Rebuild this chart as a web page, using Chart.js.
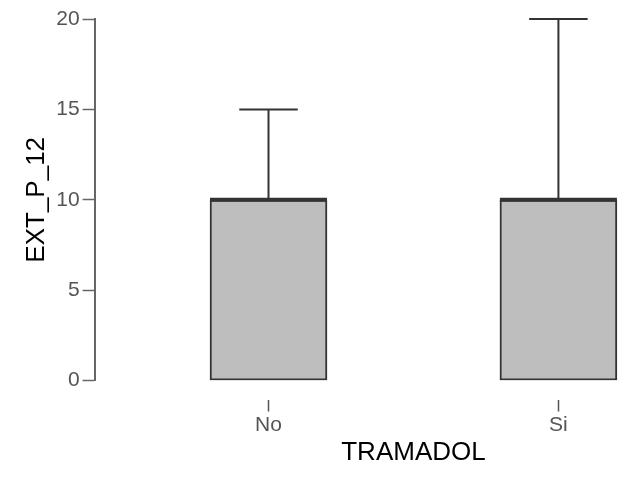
<!DOCTYPE html>
<html>
<head>
<meta charset="utf-8">
<script src="https://cdn.jsdelivr.net/npm/chart.js@4"></script>
<style>
body { margin:0; background:#fff; }
#wrap { width:628px; height:477px; }
</style>
</head>
<body>
<div id="wrap"><canvas id="boxChart"></canvas></div>
<script>
// box plot values per group
const categories = ['No', 'Si'];
const lowWhisker = [0, 0];
const q1 = [0, 0];
const medians = [10, 10];
const q3 = [10, 10];
const highWhisker = [15, 20];
const yTicks = [0, 5, 10, 15, 20];
const xTitle = 'TRAMADOL';

const boxData = categories.map((c, i) => ({ x: i, y: [q1[i], q3[i]] }));

// whiskers + median drawn from the scales
const boxExtras = {
    id: 'boxExtras',
    afterDatasetsDraw(chart) {
        const ctx = chart.ctx;
        const xs = chart.scales.x;
        const ys = chart.scales.y;
        const meta = chart.getDatasetMeta(0);
        ctx.save();
        ctx.strokeStyle = '#333';
        categories.forEach((c, i) => {
            const x = xs.getPixelForValue(i);
            const w = meta.data[i].width;
            // upper whisker
            ctx.lineWidth = 2;
            ctx.beginPath();
            ctx.moveTo(x, ys.getPixelForValue(q3[i]));
            ctx.lineTo(x, ys.getPixelForValue(highWhisker[i]));
            ctx.moveTo(x - w / 4, ys.getPixelForValue(highWhisker[i]));
            ctx.lineTo(x + w / 4, ys.getPixelForValue(highWhisker[i]));
            // lower whisker
            ctx.moveTo(x, ys.getPixelForValue(q1[i]));
            ctx.lineTo(x, ys.getPixelForValue(lowWhisker[i]));
            ctx.stroke();
            // median
            ctx.lineWidth = 4;
            ctx.beginPath();
            ctx.moveTo(x - w / 2, ys.getPixelForValue(medians[i]));
            ctx.lineTo(x + w / 2, ys.getPixelForValue(medians[i]));
            ctx.stroke();
        });
        ctx.restore();
    },
    // x title sits centred between the groups, not the whole axis
    afterDraw(chart) {
        const ctx = chart.ctx;
        const xs = chart.scales.x;
        const cx = (xs.getPixelForValue(0) + xs.getPixelForValue(categories.length - 1)) / 2;
        ctx.save();
        ctx.fillStyle = '#000';
        ctx.font = '26px "Liberation Sans"';
        ctx.textAlign = 'center';
        ctx.textBaseline = 'middle';
        ctx.fillText(xTitle, cx, xs.bottom - 19);
        ctx.restore();
    }
};

new Chart(
    document.getElementById('boxChart'),
    {
        type: 'bar',
        data: {
            datasets: [{
                data: boxData,
                backgroundColor: '#bebebe',
                borderColor: '#333',
                borderWidth: 2,
                borderSkipped: false,
                barThickness: 117
            }]
        },
        options: {
            responsive: true,
            maintainAspectRatio: false,
            animation: false,
            layout: {
                padding: { left: 21, top: 19, right: 0, bottom: 5 }
            },
            plugins: {
                legend: { display: false },
                tooltip: { enabled: false }
            },
            scales: {
                x: {
                    type: 'linear',
                    min: -0.6,
                    max: 1.24,
                    offset: false,
                    afterBuildTicks: s => { s.ticks = categories.map((c, i) => ({ value: i })); },
                    border: { display: false },
                    grid: {
                        offset: false,
                        drawOnChartArea: false,
                        tickLength: 31,
                        tickColor: '#555',
                        tickWidth: 1.5,
                        tickBorderDash: [0, 19, 12, 100]
                    },
                    ticks: {
                        callback: v => categories[v],
                        color: '#555',
                        padding: 1,
                        maxRotation: 0,
                        font: { family: 'Liberation Sans', size: 21 }
                    },
                    title: {
                        // keeps the space; text drawn by boxExtras
                        display: true,
                        text: xTitle,
                        color: 'rgba(0,0,0,0)',
                        padding: { top: 2, bottom: 0 },
                        font: { family: 'Liberation Sans', size: 26 }
                    }
                },
                y: {
                    min: 0,
                    max: 20,
                    afterBuildTicks: s => { s.ticks = yTicks.map(v => ({ value: v })); },
                    border: { color: '#666', width: 2 },
                    grid: {
                        drawOnChartArea: false,
                        tickLength: 12,
                        tickColor: '#666',
                        tickWidth: 1.5
                    },
                    ticks: {
                        color: '#555',
                        padding: 3,
                        font: { family: 'Liberation Sans', size: 21 }
                    },
                    title: {
                        display: true,
                        text: 'EXT_P_12',
                        color: '#000',
                        padding: { top: 0, bottom: 1 },
                        font: { family: 'Liberation Sans', size: 26 }
                    }
                }
            }
        },
        plugins: [boxExtras]
    }
);
</script>
</body>
</html>
